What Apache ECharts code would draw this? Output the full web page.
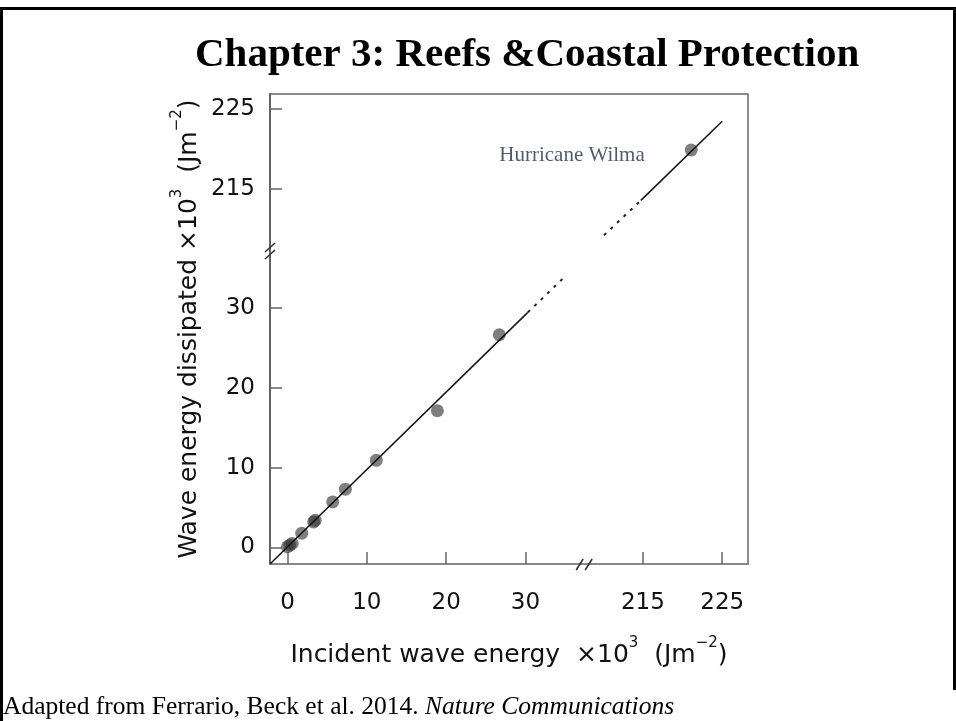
<!DOCTYPE html>
<html><head><meta charset="utf-8">
<script src="https://cdn.jsdelivr.net/npm/echarts@6/dist/echarts.min.js"></script>
<style>html,body{margin:0;padding:0;background:#fff}#c{width:956px;height:721px}</style>
</head><body><div id="c"></div>
<script>
// ---- data ----
const xTicks = [0, 10, 20, 30, 215, 225];
const yTicks = [0, 10, 20, 30, 215, 225];
const incident   = [0.0, 0.3, 0.6, 1.8, 3.3, 3.5, 5.7, 7.3, 11.2, 18.9, 26.7, 221.1];
const dissipated = [0.1, 0.3, 0.5, 1.8, 3.2, 3.4, 5.7, 7.3, 10.9, 17.1, 26.6, 219.9];
const pointNames = ['', '', '', '', '', '', '', '', '', '', '', 'Hurricane Wilma'];
const fitLowSolidX = [-2.2, 30.3],  fitLowSolidY = [-2.06, 29.4];
const fitLowDashX  = [30.3, 34.9],  fitLowDashY  = [29.4, 33.8];
const fitHighDashX = [210.1, 214.75], fitHighDashY = [209.25, 213.6];
const fitHighSolidX = [214.75, 225], fitHighSolidY = [213.6, 223.5];
const xBreak = {start: 37.4, end: 207.6};
const yBreak = {start: 37.2, end: 207.4};
const titleText = 'Chapter 3: Reefs &Coastal Protection';
const sourceText = 'Adapted from Ferrario, Beck et al. 2014. ';
const sourceItalic = 'Nature Communications';

const pairs = (xs, ys) => xs.map((x, i) => [x, ys[i]]);
const sans = 'DejaVu Sans';
const chart = echarts.init(document.getElementById('c'), null, {renderer: 'canvas'});

const supRich = {
  n: {fontSize: 25, fontFamily: sans, color: '#111', lineHeight: 32, verticalAlign: 'bottom'},
  s: {fontSize: 15, fontFamily: sans, color: '#111', lineHeight: 32, verticalAlign: 'top'}
};

const option = {
  animation: false,
  backgroundColor: '#fff',
  grid: {left: 270, right: 208, top: 94, bottom: 157, show: true, borderColor: '#666', borderWidth: 1.5, backgroundColor: 'transparent'},
  xAxis: {
    type: 'value', min: -2.2, max: 228.25,
    breaks: [{start: xBreak.start, end: xBreak.end, gap: 0}],
    breakArea: {show: false},
    axisLine: {show: true, onZero: false, lineStyle: {color: '#888', width: 1.5}},
    axisTick: {show: true, inside: true, length: 12, customValues: xTicks, lineStyle: {color: '#666', width: 1.5}},
    axisLabel: {customValues: xTicks, margin: 28, fontSize: 23, fontFamily: sans, color: '#111'},
    splitLine: {show: false},
    name: '{n|Incident wave energy  ×10}{s|3}{n|  (Jm}{s|−2}{n|)}',
    nameLocation: 'middle', nameGap: 72,
    nameTextStyle: {rich: supRich}
  },
  yAxis: {
    type: 'value', min: -2.06, max: 226.9,
    breaks: [{start: yBreak.start, end: yBreak.end, gap: 0}],
    breakArea: {show: false},
    axisLine: {show: true, onZero: false, lineStyle: {color: '#555', width: 1.5}},
    axisTick: {show: true, inside: true, length: 12, customValues: yTicks, lineStyle: {color: '#666', width: 1.5}},
    axisLabel: {customValues: yTicks, margin: 15, fontSize: 23, fontFamily: sans, color: '#111'},
    splitLine: {show: false},
    name: '{n|Wave energy dissipated ×10}{s|3}{n|  (Jm}{s|−2}{n|)}',
    nameLocation: 'middle', nameGap: 68,
    nameTextStyle: {rich: supRich}
  },
  series: [
    {
      type: 'scatter', z: 2,
      data: incident.map((x, i) => ({value: [x, dissipated[i]], name: pointNames[i],
        label: {show: pointNames[i] !== '', formatter: '{b}', position: 'left', distance: 40, offset: [0, 5],
          fontFamily: 'Liberation Serif', fontSize: 21, color: '#1f2f50'}})),
      symbolSize: 13,
      itemStyle: {color: 'rgba(55,55,55,0.8)'}
    },
    {type: 'line', z: 3, data: pairs(fitLowSolidX, fitLowSolidY), symbol: 'none', lineStyle: {color: '#111', width: 1.5}},
    {type: 'line', z: 3, data: pairs(fitLowDashX, fitLowDashY), symbol: 'none', lineStyle: {color: '#222', width: 2, type: [3, 6]}},
    {type: 'line', z: 3, data: pairs(fitHighDashX, fitHighDashY), symbol: 'none', lineStyle: {color: '#222', width: 2, type: [3, 6]}},
    {type: 'line', z: 3, data: pairs(fitHighSolidX, fitHighSolidY), symbol: 'none', lineStyle: {color: '#111', width: 1.5}}
  ]
};
chart.setOption(option);

// break marks and slide decorations
const bx = chart.convertToPixel({xAxisIndex: 0}, xBreak.start);
const by = chart.convertToPixel({yAxisIndex: 0}, yBreak.start);
const x0 = chart.convertToPixel({xAxisIndex: 0}, -2.2);
const y0 = chart.convertToPixel({yAxisIndex: 0}, -2.06);
const slash = (x1, y1, x2, y2) => ({type: 'line', shape: {x1, y1, x2, y2}, style: {stroke: '#333', lineWidth: 1.6}, z: 10});
chart.setOption({
  graphic: [
    slash(bx - 8, y0 + 6, bx - 1, y0 - 5),
    slash(bx + 1, y0 + 6, bx + 8, y0 - 5),
    slash(x0 - 5, by + 9, x0 + 5, by),
    slash(x0 - 5, by + 2, x0 + 5, by - 7),
    {type: 'rect', shape: {x: 0, y: 7, width: 956, height: 3}, style: {fill: '#000'}},
    {type: 'rect', shape: {x: 0, y: 7, width: 3, height: 714}, style: {fill: '#000'}},
    {type: 'rect', shape: {x: 953, y: 7, width: 3, height: 683}, style: {fill: '#000'}},
    {type: 'text', x: 195, y: 35, style: {text: titleText, font: 'bold 41px "Liberation Serif"', fill: '#000'}},
    {type: 'text', x: 3, y: 694, style: {text: '{r|' + sourceText + '}{i|' + sourceItalic + '}',
      rich: {r: {font: '25.5px "Liberation Serif"', fill: '#000'}, i: {font: 'italic 25.5px "Liberation Serif"', fill: '#000'}}}}
  ]
});
</script>
</body></html>
